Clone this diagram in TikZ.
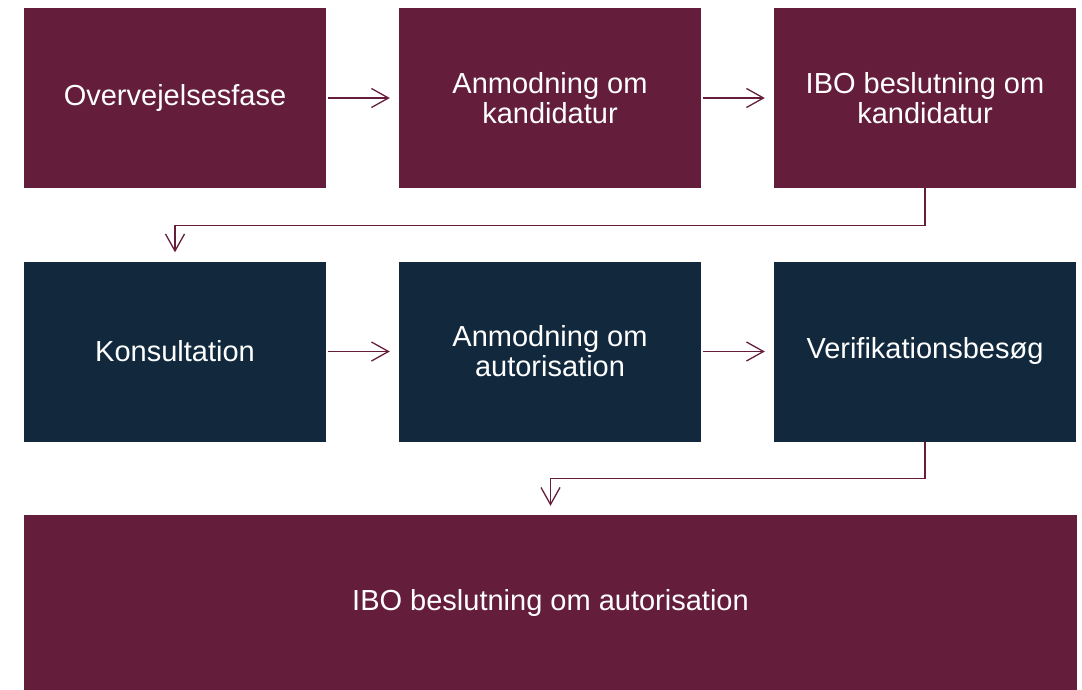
\documentclass[tikz,border=0pt]{standalone}
\usepackage{fontspec}
\setmainfont{Liberation Sans}
\usetikzlibrary{arrows.meta}
\definecolor{maroon}{RGB}{100,30,60}
\definecolor{navy}{RGB}{18,41,61}
\begin{document}
\begin{tikzpicture}[x=1pt,y=-1pt,
  box/.style={fill=#1, draw=none, text=white, minimum width=302pt, minimum height=180pt,
    inner sep=0pt, align=center, font=\fontsize{29}{30}\selectfont},
  arr/.style={draw=maroon, line width=1.3pt, -{Straight Barb[length=17pt,width=19pt,line width=1.3pt]}}
]
\useasboundingbox (0,0) rectangle (1082,690);
\node[box=maroon] (b1) at (175,98) {Overvejelsesfase};
\node[box=maroon] (b2) at (550,98) {Anmodning om\\kandidatur};
\node[box=maroon] (b3) at (925,98) {IBO beslutning om\\kandidatur};
\node[box=navy] (b4) at (175,351.5) {Konsultation};
\node[box=navy] (b5) at (550,351.5) {Anmodning om\\autorisation};
\node[box=navy] (b6) at (925,351.5) {Verifikationsbesøg};
\node[box=maroon, minimum width=1053pt, minimum height=176pt] (b7) at (550.5,603) {IBO beslutning om autorisation};
\draw[arr, shorten <=2pt, shorten >=9pt] (b1) -- (b2);
\draw[arr, shorten <=2pt, shorten >=9pt] (b2) -- (b3);
\draw[arr, shorten <=2pt, shorten >=9pt] (b4) -- (b5);
\draw[arr, shorten <=2pt, shorten >=9pt] (b5) -- (b6);
\draw[arr, shorten >=9pt] (b3.south) -- ++(0,37) -| (b4.north);
\draw[arr, shorten >=9pt] (b6.south) -- ++(0,37) -| (b7.north);
\end{tikzpicture}
\end{document}
